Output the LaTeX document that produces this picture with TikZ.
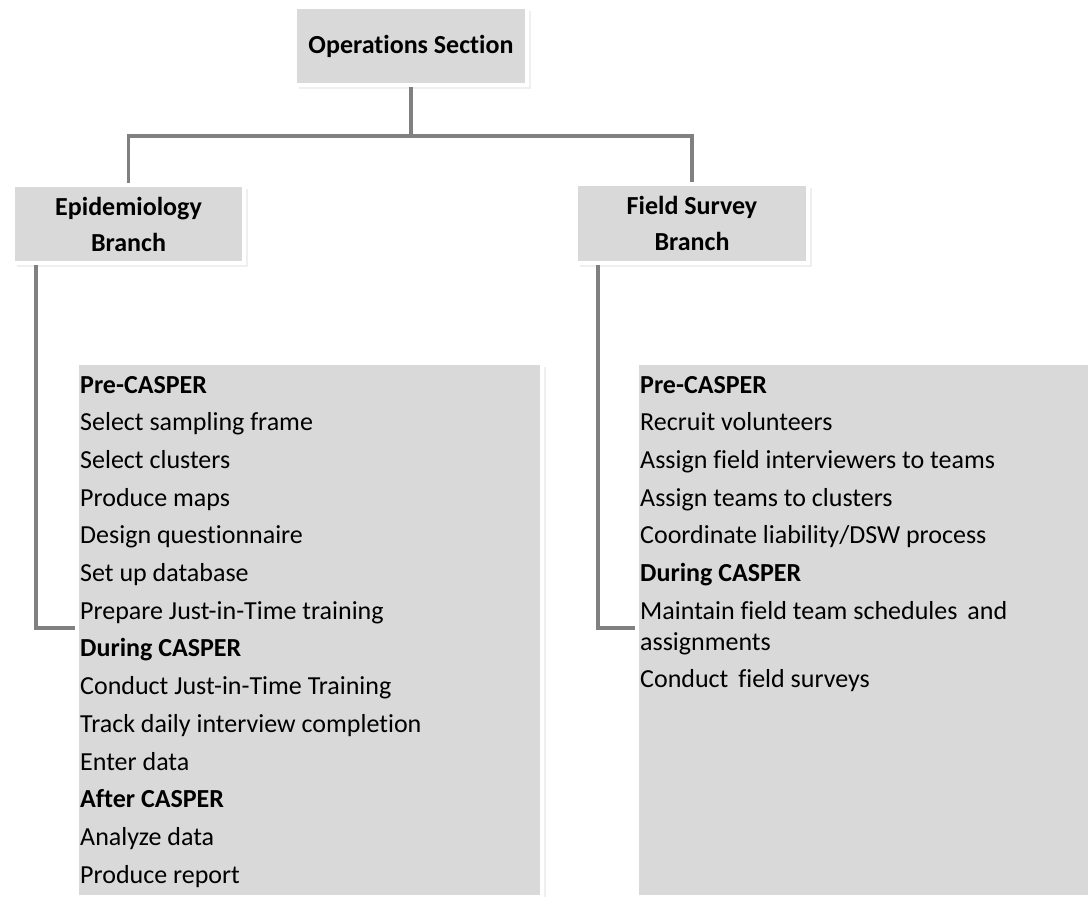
\documentclass[tikz,border=0pt]{standalone}
\usepackage{fontspec}
\setmainfont{Carlito}[Ligatures=NoCommon]
\usetikzlibrary{shadows}
\definecolor{boxgray}{HTML}{D9D9D9}
\definecolor{linegray}{HTML}{808080}
\begin{document}
\begin{tikzpicture}[x=1pt,y=-1pt,
  panel/.style={fill=boxgray, draw=white, line width=4pt, inner sep=0pt,
    drop shadow={shadow xshift=3.5pt, shadow yshift=-3.5pt, opacity=0.12, fill=black!50}},
  head/.style={panel, font=\fontsize{26}{36}\selectfont\bfseries, align=center},
  conn/.style={draw=linegray, line width=3.5pt},
  item/.style={anchor=base west, inner sep=0pt, font=\fontsize{26}{31}\selectfont},
  itemhead/.style={item, font=\fontsize{26}{31}\selectfont\bfseries}]
\useasboundingbox (0,0) rectangle (1088,897);
\fill[white] (0,0) rectangle (1088,897);

% header boxes (path sits 2pt outside the grey face, white rim 4pt wide)
\node[head, minimum width=232pt, minimum height=78pt] (ops) at (411,46) {Operations Section};
\node[head, minimum width=231pt, minimum height=78pt] (epi) at (128.5,224) {Epidemiology\\Branch};
\node[head, minimum width=232pt, minimum height=79pt] (fsb) at (692,223.5) {Field Survey\\Branch};

% task panels
\node[panel, minimum width=465pt, minimum height=534pt, anchor=north west] (epilist) at (75,361) {};
\node[panel, minimum width=464pt, minimum height=534pt, anchor=north west] (fsblist) at (635,361) {};

% connectors
\coordinate (bus) at (411,136);
\draw[conn] (ops.south) -- (bus);
\draw[conn] (epi.north) |- (bus) -| (fsb.north);
\coordinate (epiturn) at (36,628);
\coordinate (fsbturn) at (598,628);
\draw[conn] (epi.south -| epiturn) -- (epiturn) -- (epiturn -| epilist.west);
\draw[conn] (fsb.south -| fsbturn) -- (fsbturn) -- (fsbturn -| fsblist.west);

% epidemiology tasks
\node[itemhead] (e1) at (80,393) {Pre-CASPER};
\node[item] (e2) at (80,430.7) {Select sampling frame};
\node[item] (e3) at (80,468.4) {Select clusters};
\node[item] (e4) at (80,506.1) {Produce maps};
\node[item] (e5) at (80,543.8) {Design questionnaire};
\node[item] (e6) at (80,581.5) {Set up database};
\node[item] (e7) at (80,619.2) {Prepare Just-in-Time training};
\node[itemhead] (e8) at (80,656.9) {During CASPER};
\node[item] (e9) at (80,694.6) {Conduct Just-in-Time Training};
\node[item] (e10) at (80,732.3) {Track daily interview completion};
\node[item] (e11) at (80,770) {Enter data};
\node[itemhead] (e12) at (80,807.7) {After CASPER};
\node[item] (e13) at (80,845.4) {Analyze data};
\node[item] (e14) at (80,883.1) {Produce report};

% field survey tasks
\node[itemhead] (f1) at (640,393) {Pre-CASPER};
\node[item] (f2) at (640,430.7) {Recruit volunteers};
\node[item] (f3) at (640,468.4) {Assign field interviewers to teams};
\node[item] (f4) at (640,506.1) {Assign teams to clusters};
\node[item] (f5) at (640,543.8) {Coordinate liability/DSW process};
\node[itemhead] (f6) at (640,581.5) {During CASPER};
\node[item] (f7) at (640,619.2) {Maintain field team schedules\hspace{10pt}and};
\node[item] (f8) at (640,650.2) {assignments};
\node[item] (f9) at (640,687.9) {Conduct\hspace{10pt}field surveys};
\end{tikzpicture}
\end{document}
